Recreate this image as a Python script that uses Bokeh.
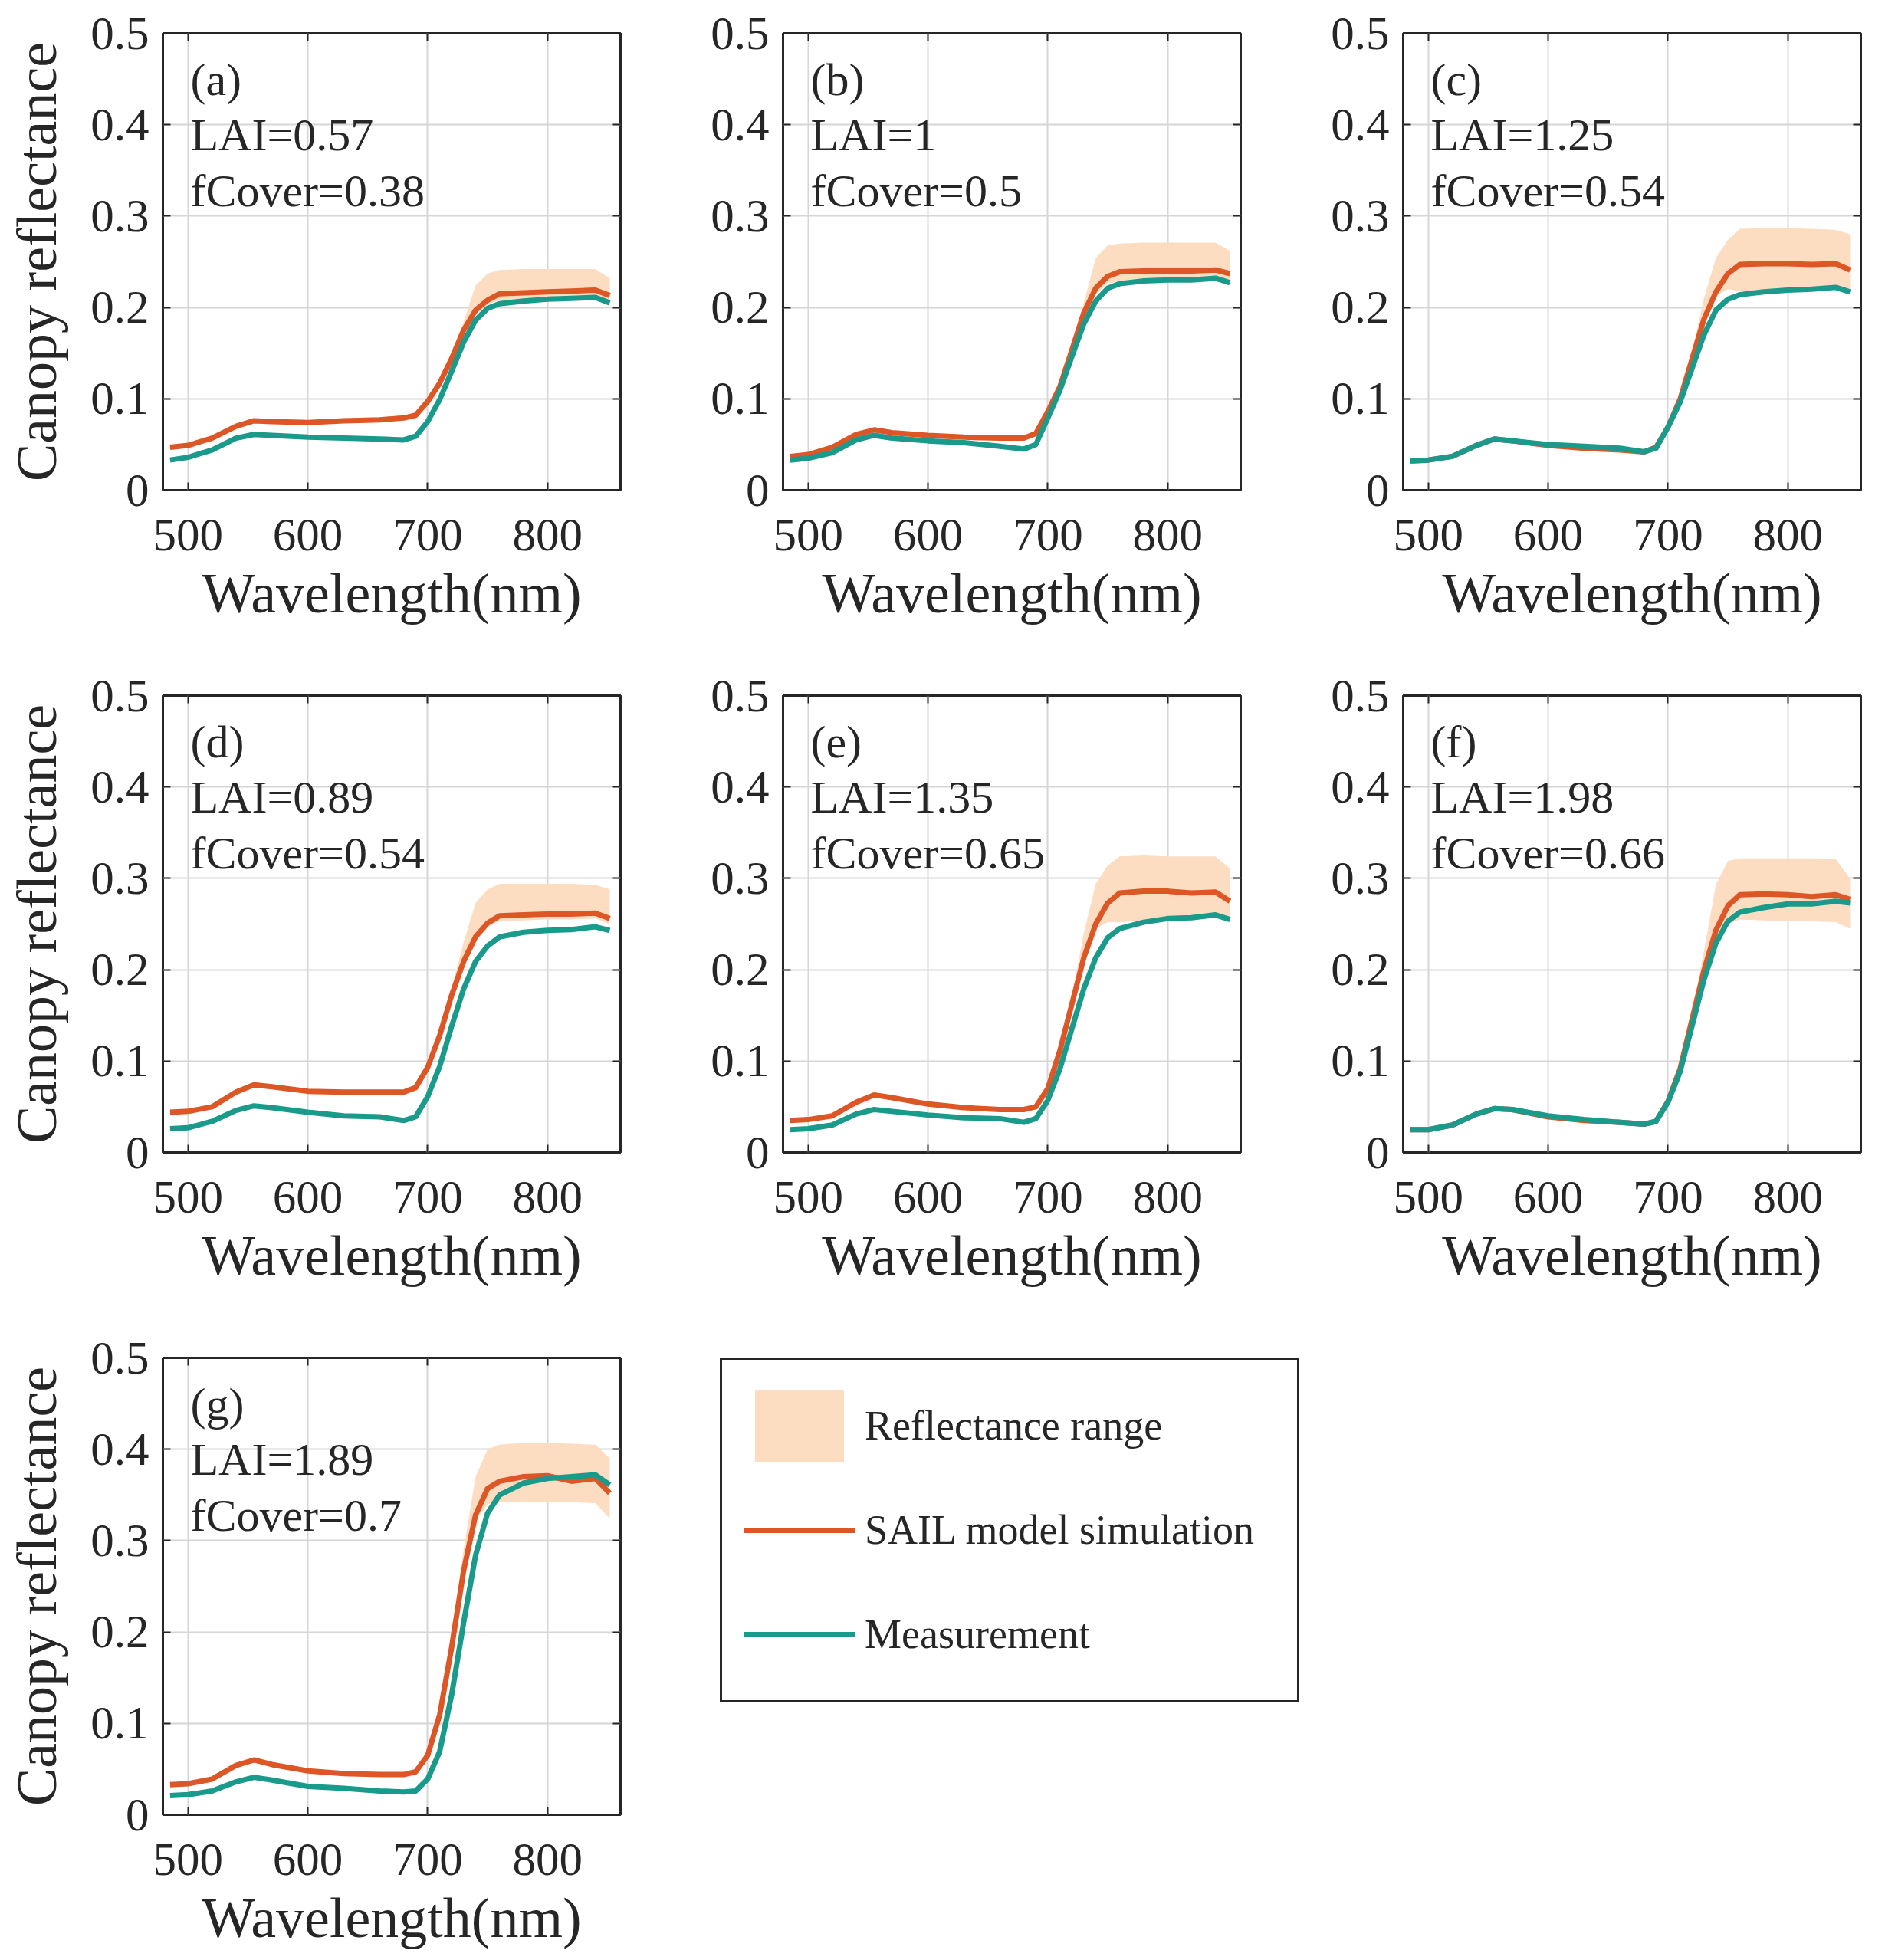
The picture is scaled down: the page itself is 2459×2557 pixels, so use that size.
from bokeh.plotting import figure
from bokeh.models import Range1d, FixedTicker, LinearAxis, Label, Legend, LegendItem
from bokeh.layouts import column, row
from bokeh.embed import file_html
from bokeh.resources import INLINE

# ---------------------------------------------------------------- data
wavelength = [485, 500, 520, 540, 555, 570, 600, 630, 660, 680, 690, 700,
              710, 720, 730, 740, 750, 760, 780, 800, 820, 840, 852]
range_wavelength = [720, 730, 740, 750, 760, 780, 800, 820, 840, 852]

panel_keys = ["a", "b", "c", "d", "e", "f", "g"]
lai_values = [0.57, 1, 1.25, 0.89, 1.35, 1.98, 1.89]
fcover_values = [0.38, 0.5, 0.54, 0.54, 0.65, 0.66, 0.7]

sim_a = [0.047, 0.049, 0.057, 0.070, 0.076, 0.075, 0.074, 0.076, 0.077, 0.079, 0.082, 0.097,
         0.117, 0.144, 0.175, 0.197, 0.208, 0.215, 0.216, 0.217, 0.218, 0.219, 0.213]
meas_a = [0.033, 0.036, 0.044, 0.057, 0.061, 0.060, 0.058, 0.057, 0.056, 0.055, 0.059, 0.075,
          0.099, 0.130, 0.162, 0.186, 0.199, 0.204, 0.207, 0.209, 0.210, 0.211, 0.205]
low_a = [0.140, 0.170, 0.192, 0.203, 0.208, 0.209, 0.210, 0.211, 0.212, 0.206]
high_a = [0.150, 0.184, 0.224, 0.237, 0.241, 0.242, 0.242, 0.242, 0.242, 0.232]

sim_b = [0.037, 0.039, 0.047, 0.061, 0.066, 0.063, 0.060, 0.058, 0.057, 0.057, 0.062, 0.086,
         0.113, 0.153, 0.194, 0.221, 0.234, 0.239, 0.240, 0.240, 0.240, 0.241, 0.237]
meas_b = [0.033, 0.035, 0.041, 0.055, 0.060, 0.057, 0.054, 0.052, 0.048, 0.045, 0.050, 0.079,
          0.109, 0.146, 0.182, 0.207, 0.221, 0.226, 0.229, 0.230, 0.230, 0.232, 0.227]
low_b = [0.150, 0.190, 0.214, 0.226, 0.229, 0.230, 0.231, 0.231, 0.232, 0.228]
high_b = [0.158, 0.205, 0.254, 0.268, 0.270, 0.271, 0.271, 0.271, 0.271, 0.262]

sim_c = [0.032, 0.033, 0.037, 0.049, 0.056, 0.054, 0.049, 0.046, 0.044, 0.042, 0.047, 0.069,
         0.099, 0.143, 0.187, 0.217, 0.237, 0.247, 0.248, 0.248, 0.247, 0.248, 0.241]
meas_c = [0.032, 0.033, 0.037, 0.049, 0.056, 0.054, 0.050, 0.048, 0.046, 0.042, 0.046, 0.069,
          0.096, 0.133, 0.170, 0.197, 0.209, 0.214, 0.217, 0.219, 0.220, 0.222, 0.217]
low_c = [0.140, 0.183, 0.212, 0.220, 0.218, 0.219, 0.220, 0.221, 0.222, 0.218]
high_c = [0.150, 0.210, 0.254, 0.274, 0.286, 0.287, 0.287, 0.286, 0.285, 0.280]

sim_d = [0.044, 0.045, 0.050, 0.066, 0.074, 0.072, 0.067, 0.066, 0.066, 0.066, 0.071, 0.093,
         0.128, 0.172, 0.209, 0.236, 0.251, 0.259, 0.260, 0.261, 0.261, 0.262, 0.256]
meas_d = [0.026, 0.027, 0.034, 0.046, 0.051, 0.049, 0.044, 0.040, 0.039, 0.035, 0.039, 0.061,
          0.094, 0.138, 0.179, 0.209, 0.226, 0.236, 0.241, 0.243, 0.244, 0.247, 0.243]
low_d = [0.168, 0.205, 0.232, 0.247, 0.253, 0.254, 0.255, 0.255, 0.256, 0.250]
high_d = [0.180, 0.230, 0.273, 0.288, 0.294, 0.294, 0.294, 0.294, 0.293, 0.288]

sim_e = [0.035, 0.036, 0.040, 0.055, 0.063, 0.060, 0.053, 0.049, 0.047, 0.047, 0.050, 0.070,
         0.111, 0.162, 0.213, 0.250, 0.273, 0.284, 0.286, 0.286, 0.284, 0.285, 0.275]
meas_e = [0.025, 0.026, 0.030, 0.042, 0.047, 0.045, 0.041, 0.038, 0.037, 0.033, 0.037, 0.057,
          0.091, 0.135, 0.179, 0.213, 0.235, 0.245, 0.252, 0.256, 0.257, 0.260, 0.255]
low_e = [0.158, 0.209, 0.245, 0.252, 0.252, 0.254, 0.256, 0.257, 0.259, 0.255]
high_e = [0.170, 0.240, 0.294, 0.314, 0.324, 0.325, 0.324, 0.324, 0.324, 0.311]

sim_f = [0.025, 0.025, 0.030, 0.042, 0.048, 0.047, 0.039, 0.035, 0.033, 0.031, 0.034, 0.056,
         0.091, 0.145, 0.199, 0.243, 0.270, 0.282, 0.283, 0.282, 0.280, 0.282, 0.277]
meas_f = [0.025, 0.025, 0.030, 0.042, 0.048, 0.047, 0.040, 0.036, 0.033, 0.031, 0.034, 0.055,
          0.088, 0.138, 0.189, 0.229, 0.253, 0.263, 0.268, 0.272, 0.272, 0.275, 0.273]
low_f = [0.140, 0.195, 0.235, 0.250, 0.255, 0.254, 0.253, 0.253, 0.252, 0.245]
high_f = [0.150, 0.220, 0.293, 0.319, 0.322, 0.322, 0.322, 0.322, 0.321, 0.300]

sim_g = [0.033, 0.034, 0.039, 0.054, 0.060, 0.055, 0.048, 0.045, 0.044, 0.044, 0.047, 0.065,
         0.109, 0.183, 0.267, 0.328, 0.357, 0.365, 0.370, 0.371, 0.365, 0.368, 0.352]
meas_g = [0.021, 0.022, 0.026, 0.036, 0.041, 0.038, 0.031, 0.029, 0.026, 0.025, 0.026, 0.039,
          0.069, 0.131, 0.210, 0.284, 0.330, 0.350, 0.363, 0.368, 0.370, 0.372, 0.361]
low_g = [0.178, 0.262, 0.322, 0.340, 0.342, 0.343, 0.342, 0.342, 0.341, 0.324]
high_g = [0.190, 0.290, 0.370, 0.400, 0.405, 0.407, 0.407, 0.406, 0.405, 0.390]

x_ticks = [500, 600, 700, 800]
x_tick_labels = ["500", "600", "700", "800"]
y_ticks = [0, 0.1, 0.2, 0.3, 0.4, 0.5]
y_tick_labels = ["0", "0.1", "0.2", "0.3", "0.4", "0.5"]

series_names = ["Reflectance range", "SAIL model simulation", "Measurement"]

# ---------------------------------------------------------------- style
FONT = "Liberation Serif"
INK = "#262626"
SIM_COLOR = "#DC5626"
MEAS_COLOR = "#1A9A8B"
RANGE_COLOR = "#FCDDC1"
GRID_COLOR = "#d6d6d6"
LINE_W = 7

FRAME_W = 597
FRAME_H = 596
TOP = 43
X_RANGE = (479, 861)
Y_RANGE = (0, 0.5)


def style_axis(ax, labels=True):
    ax.major_tick_in = 10
    ax.major_tick_out = 0
    ax.minor_tick_line_color = None
    ax.major_tick_line_color = INK
    ax.major_tick_line_width = 2
    ax.axis_line_color = None
    if labels:
        ax.major_label_text_font = FONT
        ax.major_label_text_font_size = "61px"
        ax.major_label_text_color = INK
    else:
        # tick marks only on the mirrored box sides
        ax.major_label_text_font_size = "1px"
        ax.major_label_text_color = None
        ax.major_label_standoff = 0


def make_panel(idx, sim, meas, low, high, left, right, height, ylabel):
    key = panel_keys[idx]
    p = figure(width=left + FRAME_W + right, height=height,
               x_range=Range1d(*X_RANGE), y_range=Range1d(*Y_RANGE),
               min_border_left=left, min_border_right=right,
               min_border_top=TOP, min_border_bottom=height - TOP - FRAME_H,
               tools="", toolbar_location=None, output_backend="svg")
    p.background_fill_color = "white"
    p.border_fill_color = "white"
    p.outline_line_color = INK
    p.outline_line_width = 3

    xt = FixedTicker(ticks=x_ticks)
    yt = FixedTicker(ticks=y_ticks)
    xax = p.below[0]
    yax = p.left[0]
    xax.ticker = xt
    yax.ticker = yt
    xax.major_label_overrides = dict(zip(x_ticks, x_tick_labels))
    yax.major_label_overrides = dict(zip(y_ticks, y_tick_labels))
    style_axis(xax)
    style_axis(yax)
    xax.major_label_standoff = 38
    yax.major_label_standoff = 18
    xax.axis_label = "Wavelength(nm)"
    xax.axis_label_standoff = 12
    for ax in (xax, yax):
        ax.axis_label_text_font = FONT
        ax.axis_label_text_font_size = "74px"
        ax.axis_label_text_font_style = "normal"
        ax.axis_label_text_color = INK
    if ylabel:
        yax.axis_label = "Canopy reflectance"
        yax.axis_label_standoff = 26

    p.xgrid.ticker = xt
    p.ygrid.ticker = yt
    p.grid.grid_line_color = GRID_COLOR
    p.grid.grid_line_width = 2

    top_ax = LinearAxis(ticker=xt)
    right_ax = LinearAxis(ticker=yt)
    style_axis(top_ax, labels=False)
    style_axis(right_ax, labels=False)
    p.add_layout(top_ax, "above")
    p.add_layout(right_ax, "right")

    p.varea(x=range_wavelength, y1=low, y2=high, fill_color=RANGE_COLOR)
    p.line(wavelength, sim, line_color=SIM_COLOR, line_width=LINE_W, line_join="round")
    p.line(wavelength, meas, line_color=MEAS_COLOR, line_width=LINE_W, line_join="round")

    texts = [f"({key})", f"LAI={lai_values[idx]}", f"fCover={fcover_values[idx]}"]
    for t, y in zip(texts, [0.449, 0.389, 0.328]):
        p.add_layout(Label(x=502, y=y, text=t, text_font=FONT, text_font_size="60px",
                           text_color=INK, text_baseline="alphabetic"))
    return p


ROW_H = 864
LAST_H = 829

pa = make_panel(0, sim_a, meas_a, low_a, high_a, 212, 10, ROW_H, True)
pb = make_panel(1, sim_b, meas_b, low_b, high_b, 202, 10, ROW_H, False)
pc = make_panel(2, sim_c, meas_c, low_c, high_c, 202, 20, ROW_H, False)
pd = make_panel(3, sim_d, meas_d, low_d, high_d, 212, 10, ROW_H, True)
pe = make_panel(4, sim_e, meas_e, low_e, high_e, 202, 10, ROW_H, False)
pf = make_panel(5, sim_f, meas_f, low_f, high_f, 202, 20, ROW_H, False)
pg = make_panel(6, sim_g, meas_g, low_g, high_g, 212, 10, LAST_H, True)

# ---------------------------------------------------------------- legend panel
# The key lives in its own blank canvas; its entries point at hidden copies of
# the (g) series so that the legend swatches share the same glyph styling.
lf = figure(width=900, height=LAST_H, x_range=Range1d(*X_RANGE), y_range=Range1d(*Y_RANGE),
            x_axis_location=None, y_axis_location=None,
            min_border_left=120, min_border_top=40, min_border_right=0, min_border_bottom=0,
            tools="", toolbar_location=None, output_backend="svg")
lf.outline_line_color = None
lf.grid.visible = False
lf.background_fill_color = "white"
lf.border_fill_color = "white"

r_range = lf.varea(x=range_wavelength, y1=low_g, y2=high_g, fill_color=RANGE_COLOR, visible=False)
r_sim = lf.line(wavelength, sim_g, line_color=SIM_COLOR, line_width=LINE_W, visible=False)
r_meas = lf.line(wavelength, meas_g, line_color=MEAS_COLOR, line_width=LINE_W, visible=False)

legend = Legend(
    items=[LegendItem(label=series_names[0], renderers=[r_range]),
           LegendItem(label=series_names[1], renderers=[r_sim]),
           LegendItem(label=series_names[2], renderers=[r_meas])],
    location="top_left", margin=0, padding=28, spacing=20,
    glyph_width=145, glyph_height=116, label_standoff=13, label_width=536,
    label_text_font=FONT, label_text_font_size="54px", label_text_color=INK,
    border_line_color=INK, border_line_width=3, border_line_alpha=1.0,
    background_fill_color="white", background_fill_alpha=1.0,
    click_policy="none",
)
lf.add_layout(legend, "center")

layout = column(row(pa, pb, pc), row(pd, pe, pf), row(pg, lf))

open("out.html", "w").write(file_html(layout, INLINE))
